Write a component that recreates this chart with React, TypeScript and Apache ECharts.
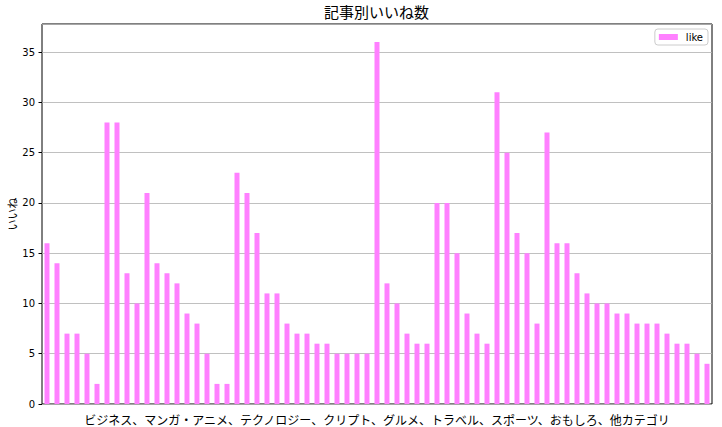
import React, { useEffect, useRef } from "react";
import * as echarts from "echarts";

const categoryLabel = "ビジネス、マンガ・アニメ、テクノロジー、クリプト、グルメ、トラベル、スポーツ、おもしろ、他カテゴリ";
const likes = [
  16, 14, 7, 7, 5, 2, 28, 28, 13, 10, 21, 14, 13, 12, 9, 8, 5, 2, 2,
  23, 21, 17, 11, 11, 8, 7, 7, 6, 6, 5, 5, 5, 5,
  36, 12, 10, 7, 6, 6, 20, 20, 15, 9, 7, 6,
  31, 25, 17, 15, 8, 27, 16, 16, 13, 11, 10, 10, 9, 9, 8, 8, 8, 7, 6, 6, 5, 4,
];
const articles = likes.map((_, i) => String(i));
const seriesName = "like";
const title = "記事別いいね数";
const yName = "いいね";

const FONT = "'Noto Sans CJK JP', 'DejaVu Sans', sans-serif";

export default function App() {
  const ref = useRef<HTMLDivElement>(null);
  useEffect(() => {
    if (!ref.current) return;
    const chart = echarts.init(ref.current, undefined, { renderer: "svg" });
    chart.setOption({
      animation: false,
      backgroundColor: "#ffffff",
      textStyle: { fontFamily: FONT },
      title: {
        text: title,
        left: 324,
        top: 4,
        padding: 0,
        textStyle: { fontSize: 15, fontWeight: "normal", color: "#000", fontFamily: FONT },
      },
      legend: {
        right: 14,
        top: 29,
        itemWidth: 19,
        itemHeight: 6,
        borderColor: "#cccccc",
        borderWidth: 1,
        borderRadius: 3,
        padding: [3, 5, 3, 4],
        textStyle: { fontSize: 10, color: "#000", fontFamily: "'DejaVu Sans', sans-serif", padding: [0, 0, 0, 3] },
        data: [{ name: seriesName, icon: "rect" }],
      },
      grid: {
        left: 42,
        right: 10,
        top: 24,
        bottom: 23,
        show: true,
        borderColor: "#000",
        borderWidth: 1,
        backgroundColor: "transparent",
        containLabel: false,
        outerBoundsMode: "none",
      },
      xAxis: {
        type: "category",
        data: articles,
        boundaryGap: true,
        axisTick: { show: false },
        axisLabel: { show: false },
        axisLine: { show: false },
        name: categoryLabel,
        nameLocation: "middle",
        nameGap: 9,
        nameMoveOverlap: false,
        nameTextStyle: { fontSize: 12, color: "#000", fontFamily: FONT },
      },
      yAxis: {
        type: "value",
        min: 0,
        max: 37.8,
        interval: 5,
        name: yName,
        nameLocation: "middle",
        nameRotate: 90,
        nameGap: 25,
        nameMoveOverlap: false,
        nameTextStyle: { fontSize: 11, color: "#000", fontFamily: FONT },
        axisLine: { show: false },
        axisTick: { show: true, length: 3.5, lineStyle: { color: "#000" } },
        axisLabel: {
          fontSize: 10,
          color: "#000",
          margin: 7,
          fontFamily: "'DejaVu Sans', sans-serif",
          showMaxLabel: false,
        },
        splitLine: { show: true, lineStyle: { color: "#b0b0b0", width: 0.8 } },
      },
      series: [
        {
          name: seriesName,
          type: "bar",
          data: likes,
          barWidth: "50%",
          itemStyle: { color: "#ff80ff" },
        },
      ],
    });
    return () => chart.dispose();
  }, []);
  return (
    <div
      ref={ref}
      style={{ position: "fixed", left: 0, top: 0, width: 722, height: 427 }}
    />
  );
}
